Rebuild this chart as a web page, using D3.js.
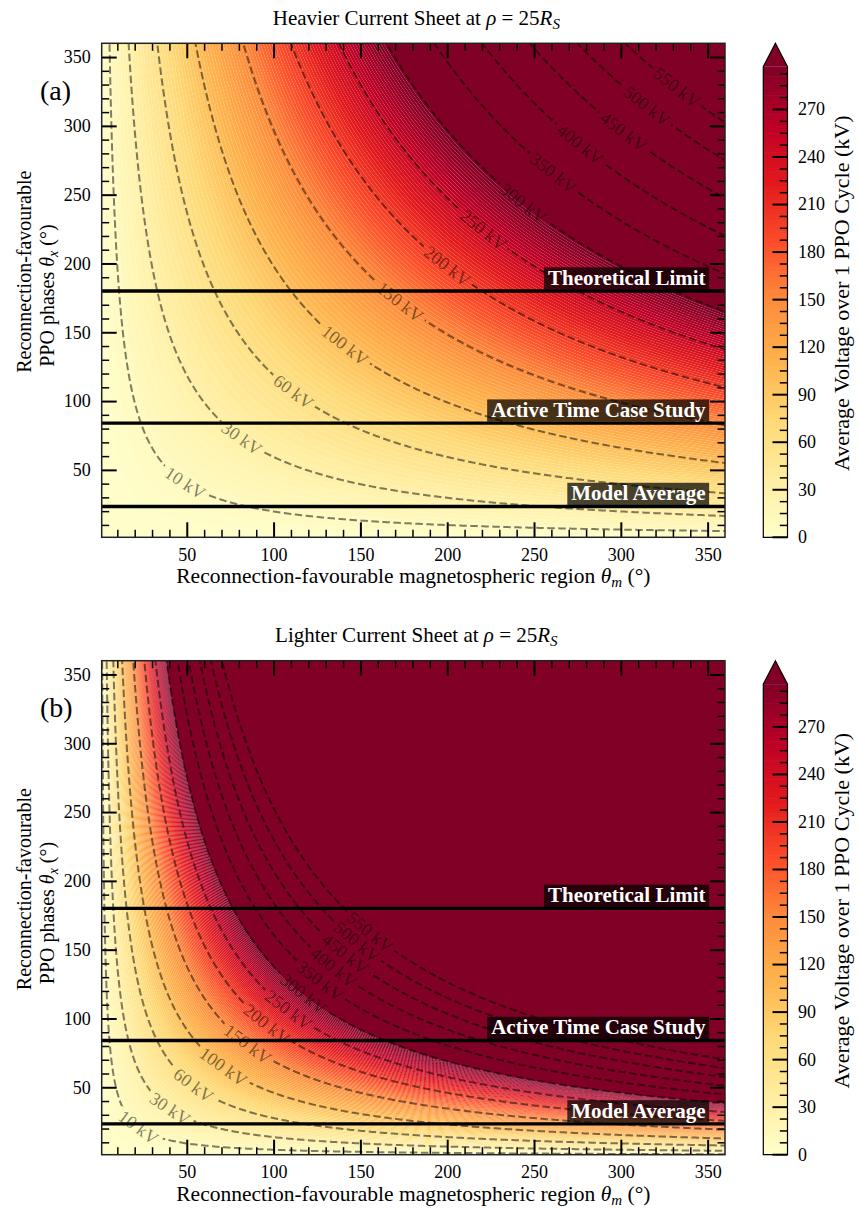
<!DOCTYPE html>
<html>
<head>
<meta charset="utf-8">
<script src="https://cdn.jsdelivr.net/npm/d3@7"></script>
<style>
  body { margin: 0; background: #fff; }
  svg text { font-family: "Liberation Serif", "Times New Roman", serif; }
</style>
</head>
<body>
<svg id="fig" width="858" height="1212"></svg>
<script>
// ---- data ----
const panelTags = ["(a)", "(b)"];
const panelTitles = ["Heavier Current Sheet at ", "Lighter Current Sheet at "];
const degSqPerKV = [198, 46];
const contourLevels = [10, 30, 60, 100, 150, 200, 250, 300, 350, 400, 450, 500, 550];
// thetaM where each contour label sits
const labelThetaM = [
  [49, 81.6, 111.4, 141.1, 172.8, 200, 220.8, 243.8, 261.1, 276.5, 301.4, 314.9, 332.2],
  [22.1, 40.3, 53.8, 71.0, 85.0, 96.0, 108.5, 117.1, 126.7, 134.4, 141.1, 147.9, 155.5]
];
const colourLevelStep = 3;
const colourLevelMax = 297;
const ylorrd = ["#ffffcc", "#ffeda0", "#fed976", "#feb24c", "#fd8d3c", "#fc4e2a", "#e31a1c", "#bd0026", "#800026"];
const markerNames = ["Theoretical Limit", "Active Time Case Study", "Model Average"];
const markerPhases = [180, 84, 23.4];
const axisTicks = [50, 100, 150, 200, 250, 300, 350];
const colourbarTicks = [0, 30, 60, 90, 120, 150, 180, 210, 240, 270];
const thetaRange = [1, 360];

// ---- layout ----
const plotLeft = 101.7, plotRight = 725;
const panelTops = [43.3, 660.7], panelHeight = 494;
const cbLeft = 763.3, cbWidth = 24.2, cbExt = 23.4;
const svg = d3.select("#fig");
const defs = svg.append("defs");

const bandColour = d3.scaleLinear()
  .domain(ylorrd.map((c, i) => i / (ylorrd.length - 1) * colourLevelMax))
  .range(ylorrd)
  .interpolate(d3.interpolateRgb)
  .clamp(true);
const overColour = ylorrd[ylorrd.length - 1];
const colourLevels = d3.range(0, colourLevelMax + colourLevelStep / 2, colourLevelStep);

// sampling grid (slightly wider than the axes so contour rims fall outside the clip)
const gridLo = -3, gridHi = 364, gridStep = 1;
const gridAxis = d3.range(gridLo, gridHi + gridStep / 2, gridStep);
const N = gridAxis.length;

panelTags.forEach(function (tag, p) {
  const top = panelTops[p], bottom = top + panelHeight;
  const k = degSqPerKV[p];
  const x = d3.scaleLinear().domain(thetaRange).range([plotLeft, plotRight]);
  const y = d3.scaleLinear().domain(thetaRange).range([bottom, top]);

  const values = new Float64Array(N * N);
  for (let j = 0; j < N; j++)
    for (let i = 0; i < N; i++)
      values[j * N + i] = gridAxis[i] * gridAxis[j] / k;

  const proj = d3.geoTransform({
    point: function (px, py) {
      this.stream.point(x(gridLo + (px - 0.5) * gridStep), y(gridLo + (py - 0.5) * gridStep));
    }
  });
  const path = d3.geoPath(proj);

  defs.append("clipPath").attr("id", "clip" + p)
    .append("rect").attr("x", plotLeft).attr("y", top)
    .attr("width", plotRight - plotLeft).attr("height", panelHeight);

  const plot = svg.append("g").attr("clip-path", "url(#clip" + p + ")");

  // filled bands
  const filled = d3.contours().size([N, N]).thresholds(colourLevels)(values);
  filled.forEach(function (c, i) {
    if (i < filled.length - 1) {
      plot.append("path")
        .attr("d", (path(c) || "") + (path(filled[i + 1]) || ""))
        .attr("fill-rule", "evenodd")
        .attr("fill", bandColour(c.value + colourLevelStep / 2));
    } else {
      plot.append("path").attr("d", path(c) || "").attr("fill", overColour);
    }
  });

  // contour labels (measured first so the lines can be cut under them)
  const sx = (plotRight - plotLeft) / (thetaRange[1] - thetaRange[0]);
  const sy = panelHeight / (thetaRange[1] - thetaRange[0]);
  const labelG = svg.append("g").attr("clip-path", "url(#clip" + p + ")");
  const mask = defs.append("mask").attr("id", "cut" + p)
    .attr("maskUnits", "userSpaceOnUse")
    .attr("x", 0).attr("y", 0).attr("width", 858).attr("height", 1212);
  mask.append("rect").attr("width", 858).attr("height", 1212).attr("fill", "#fff");

  const lineG = plot.append("g").attr("mask", "url(#cut" + p + ")");
  const lines = d3.contours().size([N, N]).thresholds(contourLevels)(values);
  lineG.selectAll("path").data(lines).enter().append("path")
    .attr("d", d => path(d) || "")
    .attr("fill", "none")
    .attr("stroke", "#000")
    .attr("stroke-opacity", 0.5)
    .attr("stroke-width", 2)
    .attr("stroke-dasharray", "7.5,3.5");

  contourLevels.forEach(function (lvl, i) {
    const tm = labelThetaM[p][i];
    const C = lvl * k;
    const tx = C / tm;
    const ang = Math.atan(sy * C / (sx * tm * tm)) * 180 / Math.PI;
    const tr = "translate(" + x(tm) + "," + y(tx) + ") rotate(" + ang + ")";
    const t = labelG.append("text")
      .attr("transform", tr)
      .attr("text-anchor", "middle")
      .attr("dy", "0.33em")
      .style("font-size", "18px")
      .attr("fill", "#000")
      .attr("fill-opacity", 0.5)
      .text(lvl + " kV");
    const w = t.node().getComputedTextLength() + 8;
    mask.append("rect").attr("transform", tr)
      .attr("x", -w / 2).attr("y", -7.5).attr("width", w).attr("height", 15)
      .attr("fill", "#000");
  });

  // marker lines and their boxes
  const markG = svg.append("g").attr("clip-path", "url(#clip" + p + ")");
  markerPhases.forEach(function (ph, i) {
    markG.append("line")
      .attr("x1", plotLeft).attr("x2", plotRight)
      .attr("y1", y(ph)).attr("y2", y(ph))
      .attr("stroke", "#000").attr("stroke-width", 3.4);
    const base = y(ph) - 6.2;
    const box = markG.append("rect");
    const t = markG.append("text")
      .attr("x", x(350) - 2).attr("y", base)
      .attr("text-anchor", "end")
      .style("font-size", "21px").style("font-weight", "bold")
      .attr("fill", "#fff")
      .text(markerNames[i]);
    const w = t.node().getComputedTextLength();
    box.attr("x", x(350) - 2 - w - 4).attr("y", base - 17.5)
      .attr("width", w + 7.5).attr("height", 22.2)
      .attr("fill", "#000").attr("fill-opacity", 0.72);
  });

  // ticks (inward, all four sides)
  const minor = d3.range(10, 360, 10).filter(v => v % 50 !== 0);
  const axG = svg.append("g");
  function ticks(axis, tx, ty, vals, len, width, labels) {
    const g = axG.append("g").attr("transform", "translate(" + tx + "," + ty + ")")
      .call(axis.tickValues(vals).tickSize(-len).tickPadding(labels ? 11 : 0)
        .tickFormat(labels ? d3.format("d") : () => ""));
    g.attr("font-family", null).attr("font-size", null);
    g.select(".domain").remove();
    g.selectAll(".tick line").attr("stroke", "#000").attr("stroke-width", width);
    g.selectAll(".tick text").style("font-size", "18px").attr("fill", "#000")
      .style("font-family", "'Liberation Serif', serif");
    return g;
  }
  ticks(d3.axisBottom(x), 0, bottom, axisTicks, 15, 2, true);
  ticks(d3.axisBottom(x), 0, bottom, minor, 7.5, 1.5, false);
  ticks(d3.axisTop(x), 0, top, axisTicks, 15, 2, false);
  ticks(d3.axisTop(x), 0, top, minor, 7.5, 1.5, false);
  ticks(d3.axisLeft(y), plotLeft, 0, axisTicks, 15, 2, true);
  ticks(d3.axisLeft(y), plotLeft, 0, minor, 7.5, 1.5, false);
  ticks(d3.axisRight(y), plotRight, 0, axisTicks, 15, 2, false);
  ticks(d3.axisRight(y), plotRight, 0, minor, 7.5, 1.5, false);

  svg.append("rect")
    .attr("x", plotLeft).attr("y", top)
    .attr("width", plotRight - plotLeft).attr("height", panelHeight)
    .attr("fill", "none").attr("stroke", "#222").attr("stroke-width", 1.5);

  // title
  const title = svg.append("text")
    .attr("x", (plotLeft + plotRight) / 2 + 3).attr("y", top - 18.8)
    .attr("text-anchor", "middle").style("font-size", "21px");
  title.append("tspan").text(panelTitles[p]);
  title.append("tspan").style("font-style", "italic").text("ρ");
  title.append("tspan").text(" = 25");
  title.append("tspan").style("font-style", "italic").text("R");
  title.append("tspan").style("font-style", "italic").style("font-size", "15px")
    .attr("dy", 4).text("S");

  // panel tag
  svg.append("text").attr("x", 40).attr("y", top + 56.7)
    .style("font-size", "28px").text(tag);

  // x label
  const xl = svg.append("text")
    .attr("x", (plotLeft + plotRight) / 2).attr("y", bottom + 46)
    .attr("text-anchor", "middle").style("font-size", "21.5px");
  xl.append("tspan").text("Reconnection-favourable magnetospheric region ");
  xl.append("tspan").style("font-style", "italic").text("θ");
  xl.append("tspan").style("font-style", "italic").style("font-size", "15px").attr("dy", 4).text("m");
  xl.append("tspan").attr("dy", -4).text(" (°)");

  // y label (two lines)
  const mid = top + panelHeight / 2;
  svg.append("text")
    .attr("transform", "translate(31," + (mid + 82.5) + ") rotate(-90)")
    .style("font-size", "20px").text("Reconnection-favourable");
  const yl = svg.append("text")
    .attr("transform", "translate(54," + (mid + 76.5) + ") rotate(-90)")
    .style("font-size", "20px");
  yl.append("tspan").text("PPO phases ");
  yl.append("tspan").style("font-style", "italic").text("θ");
  yl.append("tspan").style("font-style", "italic").style("font-size", "14px").attr("dy", 4).text("x");
  yl.append("tspan").attr("dy", -4).text(" (°)");

  // colourbar
  const cbTop = top + cbExt;
  const cb = d3.scaleLinear().domain([0, colourLevelMax]).range([bottom, cbTop]);
  const cbG = svg.append("g");
  colourLevels.slice(0, -1).forEach(function (t) {
    cbG.append("rect")
      .attr("x", cbLeft).attr("width", cbWidth)
      .attr("y", cb(t + colourLevelStep)).attr("height", cb(t) - cb(t + colourLevelStep) + 0.6)
      .attr("fill", bandColour(t + colourLevelStep / 2));
  });
  cbG.append("path")
    .attr("d", "M" + cbLeft + "," + cbTop + "L" + (cbLeft + cbWidth / 2) + "," + top + "L" + (cbLeft + cbWidth) + "," + cbTop + "Z")
    .attr("fill", overColour);
  cbG.append("path")
    .attr("d", "M" + cbLeft + "," + bottom + "V" + cbTop + "L" + (cbLeft + cbWidth / 2) + "," + top +
      "L" + (cbLeft + cbWidth) + "," + cbTop + "V" + bottom + "Z")
    .attr("fill", "none").attr("stroke", "#000").attr("stroke-width", 1.2);
  const cbMinor = d3.range(0, colourLevelMax, 7.5).filter(v => v % 30 !== 0);
  const cbRight = cbLeft + cbWidth;
  cbG.selectAll(".cbmin").data(cbMinor).enter().append("line")
    .attr("x1", cbRight).attr("x2", cbRight - 7.7)
    .attr("y1", d => cb(d)).attr("y2", d => cb(d))
    .attr("stroke", "#000").attr("stroke-width", 1.5);
  cbG.selectAll(".cbmaj").data(colourbarTicks).enter().append("line")
    .attr("x1", cbRight).attr("x2", cbRight - 15)
    .attr("y1", d => cb(d)).attr("y2", d => cb(d))
    .attr("stroke", "#000").attr("stroke-width", 2);
  cbG.selectAll(".cblab").data(colourbarTicks).enter().append("text")
    .attr("x", cbRight + 10.5).attr("y", d => cb(d)).attr("dy", "0.33em")
    .style("font-size", "18px").text(d => d);
  svg.append("text")
    .attr("transform", "translate(849," + (top + 250) + ") rotate(-90)")
    .attr("text-anchor", "middle").style("font-size", "22px")
    .text("Average Voltage over 1 PPO Cycle (kV)");
});
</script>
</body>
</html>
